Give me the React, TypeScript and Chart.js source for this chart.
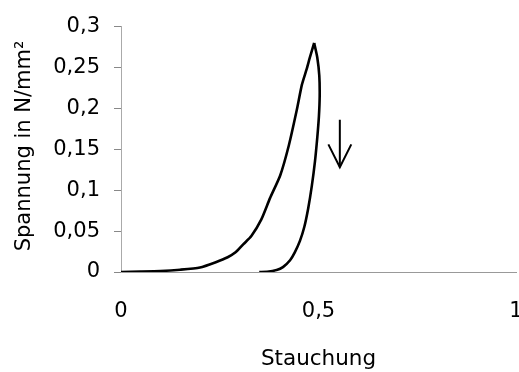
import React, { useEffect, useRef } from "react";
import { Chart, registerables } from "chart.js";

Chart.register(...registerables);

const loadX = [0, 0.05, 0.1, 0.15, 0.2, 0.24, 0.27, 0.29, 0.31, 0.33, 0.355, 0.377, 0.403, 0.425, 0.445, 0.458, 0.47, 0.478, 0.489];
const loadY = [0, 0.0005, 0.0012, 0.0028, 0.0055, 0.012, 0.018, 0.024, 0.034, 0.044, 0.064, 0.09, 0.118, 0.155, 0.198, 0.229, 0.248, 0.262, 0.28];
const unloadX = [0.489, 0.497, 0.502, 0.503, 0.501, 0.497, 0.491, 0.483, 0.474, 0.464, 0.453, 0.44, 0.428, 0.41, 0.394, 0.37, 0.35];
const unloadY = [0.28, 0.262, 0.24, 0.215, 0.19, 0.165, 0.135, 0.105, 0.078, 0.055, 0.038, 0.024, 0.0144, 0.006, 0.0024, 0.0003, 0];
const arrowShaftX = [0.554, 0.554];
const arrowShaftY = [0.186, 0.128];
const arrowHeadX = [0.525, 0.554, 0.583];
const arrowHeadY = [0.156, 0.128, 0.156];

const xTitle = "Stauchung";
const yTitle = "Spannung in N/mm²";

const zip = (xs: number[], ys: number[]) => xs.map((x, i) => ({ x, y: ys[i] }));
const fmt = (v: number) => String(Math.round(v * 100) / 100).replace(".", ",");

const FONT = "'DejaVu Sans', sans-serif";

export default function App() {
  const ref = useRef<HTMLCanvasElement>(null);
  useEffect(() => {
    if (!ref.current) return;
    const line = (data: { x: number; y: number }[], w: number, t: number) => ({
      data,
      showLine: true,
      borderColor: "#000",
      backgroundColor: "#000",
      borderWidth: w,
      pointRadius: 0,
      tension: t,
      fill: false,
    });
    const chart = new Chart(ref.current, {
      type: "scatter",
      data: {
        datasets: [
          line(zip(loadX, loadY), 2.6, 0.2),
          line(zip(unloadX, unloadY), 2.6, 0.2),
          line(zip(arrowShaftX, arrowShaftY), 2, 0),
          line(zip(arrowHeadX, arrowHeadY), 2, 0),
        ] as any,
      },
      options: {
        animation: false,
        responsive: false,
        layout: { padding: { top: 21, left: 0, right: 3, bottom: 0 } },
        plugins: { legend: { display: false }, tooltip: { enabled: false } },
        scales: {
          x: {
            type: "linear",
            min: 0,
            max: 1,
            afterFit: (s: any) => {
              s.height = 100;
              s.paddingLeft = 0;
              s.paddingRight = 0;
            },
            ticks: {
              stepSize: 0.5,
              padding: 27,
              color: "#000",
              font: { family: FONT, size: 21 },
              callback: (v: any) => fmt(Number(v)),
            },
            grid: { display: false, drawTicks: false },
            border: { display: true, color: "#999", width: 1 },
            title: {
              display: true,
              text: xTitle,
              color: "#000",
              font: { family: FONT, size: 21.5 },
              padding: { top: 7, bottom: 0 },
            },
          },
          y: {
            type: "linear",
            min: 0,
            max: 0.3,
            afterFit: (s: any) => { s.width = 121; },
            ticks: {
              stepSize: 0.05,
              padding: 14,
              color: "#000",
              font: { family: FONT, size: 21 },
              callback: (v: any) => fmt(Number(v)),
            },
            grid: { display: true, drawOnChartArea: false, drawTicks: true, tickLength: 7, color: "#888" },
            border: { display: true, color: "#aaa", width: 1, dash: [1, 2] },
            title: {
              display: true,
              text: " " + yTitle,
              color: "#000",
              font: { family: FONT, size: 21 },
              padding: { top: 12, bottom: 0 },
            },
          },
        },
      } as any,
    });
    return () => chart.destroy();
  }, []);
  return (
    <div style={{ position: "fixed", left: 0, top: 0, width: 519, height: 372, background: "#fff" }}>
      <canvas ref={ref} width={519} height={372} style={{ width: 519, height: 372 }} />
    </div>
  );
}
